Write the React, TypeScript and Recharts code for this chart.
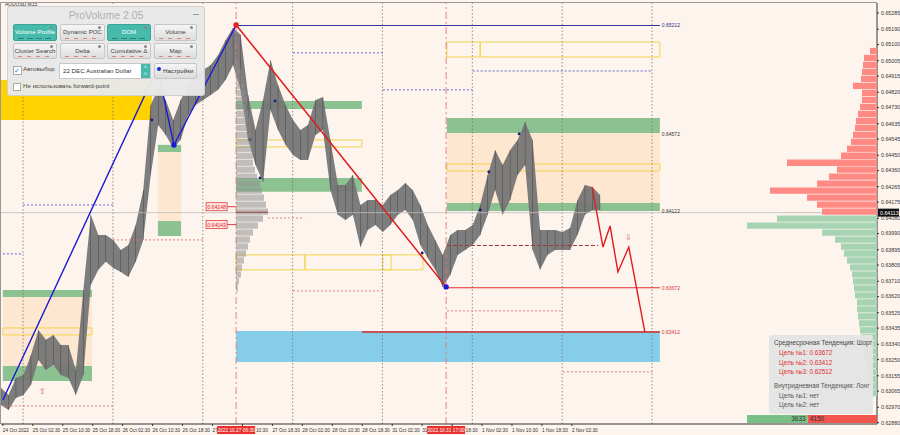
import React from "react";
import {
  ComposedChart,
  Area,
  Bar,
  BarChart,
  Cell,
  Line,
  Scatter,
  XAxis,
  YAxis,
  ReferenceArea,
  ReferenceLine,
  ReferenceDot,
  LabelList,
} from "recharts";

const W = 900;
const H = 435;
const PRICE_MIN = 0.62872;
const PRICE_MAX = 0.65344;
const LAST = 0.64113;
const FONT = "'Liberation Sans', Arial, sans-serif";

// candle highs / lows, one pair every 2 bars
const highs = [
  0.63083, 0.63043, 0.63142, 0.6316, 0.63277, 0.63424, 0.63366, 0.63395, 0.63336, 0.63336,
  0.63189, 0.63659, 0.641, 0.63982, 0.63982, 0.63953, 0.63894, 0.63923, 0.64041, 0.64246,
  0.64745, 0.64845, 0.64775, 0.64657, 0.64775, 0.64863, 0.64922, 0.64951, 0.6498, 0.65039,
  0.65127, 0.65198, 0.65157, 0.64804, 0.64599, 0.64775, 0.6501, 0.64863, 0.64745, 0.64657,
  0.64599, 0.64628, 0.64775, 0.64792, 0.6454, 0.64276, 0.64276, 0.64334, 0.64158, 0.64188,
  0.64188, 0.64158, 0.64217, 0.64246, 0.64287, 0.64246, 0.64158, 0.64041, 0.63953, 0.63865,
  0.63982, 0.64011, 0.64011, 0.64041, 0.64158, 0.64334, 0.64481, 0.64393, 0.64481, 0.6454,
  0.64646, 0.6454, 0.64011, 0.64011, 0.64011, 0.63999, 0.64023, 0.64188, 0.64276, 0.64264,
  0.64217,
];
const lows = [
  0.62984, 0.62954, 0.63025, 0.63043, 0.63101, 0.63248, 0.63189, 0.63219, 0.6316, 0.63142,
  0.63043, 0.6316, 0.63688, 0.63777, 0.63824, 0.63788, 0.63765, 0.63735, 0.63824, 0.63953,
  0.64334, 0.64628, 0.64569, 0.64493, 0.6454, 0.64687, 0.64745, 0.64775, 0.64804, 0.64834,
  0.64892, 0.6498, 0.64834, 0.6454, 0.64393, 0.64293, 0.64716, 0.64599, 0.64511, 0.64452,
  0.64422, 0.64422, 0.64569, 0.64599, 0.64246, 0.641, 0.6407, 0.641, 0.63912, 0.64011,
  0.64041, 0.63999, 0.64041, 0.641, 0.64129, 0.6407, 0.63923, 0.63847, 0.63777, 0.63677,
  0.63747, 0.63865, 0.63894, 0.63923, 0.63982, 0.641, 0.64246, 0.641, 0.64188, 0.64334,
  0.64393, 0.63894, 0.63777, 0.63865, 0.63894, 0.63894, 0.63894, 0.63982, 0.641, 0.64129,
  0.64129,
];

const timeLabels = [
  "24 Oct 2022", "25 Oct 02:30", "25 Oct 10:30", "25 Oct 18:30", "26 Oct 02:30",
  "26 Oct 10:30", "26 Oct 18:30", "27 Oct 02:30", "27 Oct 10:30", "27 Oct 18:30",
  "28 Oct 02:30", "28 Oct 10:30", "28 Oct 18:30", "31 Oct 02:30", "31 Oct 10:30",
  "31 Oct 18:30", "1 Nov 02:30", "1 Nov 10:30", "1 Nov 18:30", "2 Nov 02:30",
];
const timeTicks = timeLabels.map((_, i) => 0.5 + i * 8);
// parts of the time labels left visible next to the red time flags
const clippedLabels: Record<number, { text: string; dx: number }> = {
  7: { text: "27", dx: 0 },
  8: { text: "10:30", dx: 13.5 },
  14: { text: "31", dx: 0 },
  15: { text: "18:30", dx: 13.5 },
};

const priceTicks = [
  0.65285, 0.6519, 0.651, 0.65005, 0.64915, 0.6482, 0.6473, 0.64635, 0.64545, 0.6445,
  0.6436, 0.64265, 0.64175, 0.6408, 0.6399, 0.63895, 0.63805, 0.6371, 0.6362, 0.63525,
  0.63435, 0.6334, 0.6325, 0.63155, 0.63065, 0.6297, 0.6288,
];

const gridBars = [5.9, 29.9, 53.9, 77.9, 101.9, 125.9, 149.9, 173.9];

const blueWave = [
  { bar: 0.5, price: 0.63013 },
  { bar: 41.8, price: 0.64962 },
  { bar: 46.2, price: 0.6451 },
  { bar: 62.8, price: 0.65215 },
];
const redWave = [
  { bar: 62.8, price: 0.65215 },
  { bar: 118.9, price: 0.63677 },
];
const forecast = [
  { bar: 157.9, price: 0.64264 },
  { bar: 160.8, price: 0.63911 },
  { bar: 162.7, price: 0.64035 },
  { bar: 164.8, price: 0.63765 },
  { bar: 167.7, price: 0.63911 },
  { bar: 172, price: 0.63412 },
];

const greenZones = [
  { x1: 0.5, x2: 24.3, y1: 0.63618, y2: 0.63659 },
  { x1: 0.5, x2: 24.3, y1: 0.63125, y2: 0.63213 },
  { x1: 41.9, x2: 48.1, y1: 0.64469, y2: 0.64511 },
  { x1: 41.9, x2: 48.1, y1: 0.63976, y2: 0.64064 },
  { x1: 62.8, x2: 96.4, y1: 0.64722, y2: 0.64769 },
  { x1: 62.8, x2: 96.4, y1: 0.64235, y2: 0.64317 },
  { x1: 119.1, x2: 176, y1: 0.64581, y2: 0.64669 },
  { x1: 119.1, x2: 176, y1: 0.64123, y2: 0.6417 },
];
const orangeZones = [
  { x1: 0.5, x2: 24.3, y1: 0.63213, y2: 0.63618 },
  { x1: 41.9, x2: 48.1, y1: 0.64064, y2: 0.64469 },
  { x1: 119.1, x2: 176, y1: 0.6417, y2: 0.64581 },
];
const yellowBoxes = [
  { x1: 0.5, x2: 24.3, y1: 0.63395, y2: 0.63436 },
  { x1: 62.8, x2: 96.4, y1: 0.64499, y2: 0.6454 },
  { x1: 62.8, x2: 81.2, y1: 0.63777, y2: 0.63865 },
  { x1: 81.2, x2: 104.2, y1: 0.63777, y2: 0.63865 },
  { x1: 102, x2: 112.7, y1: 0.63777, y2: 0.63865 },
  { x1: 119.1, x2: 128, y1: 0.65027, y2: 0.65115 },
  { x1: 128, x2: 176, y1: 0.65027, y2: 0.65115 },
  { x1: 119.1, x2: 176, y1: 0.64358, y2: 0.64399 },
];

const solidLevels = [
  { x1: 62.8, x2: 176, price: 0.65212, color: "#3434a0", w: 1.2, dash: "" },
  { x1: 118.9, x2: 176, price: 0.63672, color: "#e03030", w: 1.2, dash: "" },
  { x1: 96.4, x2: 176, price: 0.63412, color: "#d42a2a", w: 1.5, dash: "" },
  { x1: 119.1, x2: 159.5, price: 0.6392, color: "#9b3a3a", w: 1.1, dash: "4 2" },
  { x1: 62.8, x2: 71.3, price: 0.64115, color: "#b03030", w: 1.5, dash: "" },
];
const dottedLevels = [
  { x1: 0.5, x2: 5.9, price: 0.63871, color: "#5555d0" },
  { x1: 5.9, x2: 29.9, price: 0.64158, color: "#5555d0" },
  { x1: 29.9, x2: 53.9, price: 0.63953, color: "#e07070" },
  { x1: 0.5, x2: 29.9, price: 0.62978, color: "#e07070" },
  { x1: 71.3, x2: 81, price: 0.64082, color: "#e07070" },
  { x1: 78, x2: 102, price: 0.65051, color: "#5555d0" },
  { x1: 78, x2: 102, price: 0.63653, color: "#e07070" },
  { x1: 102, x2: 126, price: 0.64834, color: "#5555d0" },
  { x1: 119.1, x2: 150.1, price: 0.63536, color: "#e07070" },
  { x1: 126, x2: 174, price: 0.64945, color: "#5555d0" },
  { x1: 150.1, x2: 174, price: 0.63178, color: "#e07070" },
];

const levelTags = [
  { price: 0.65212, text: "0.65212", color: "#2b2b8c" },
  { price: 0.64572, text: "0.64572", color: "#333" },
  { price: 0.64122, text: "0.64122", color: "#333" },
  { price: 0.63672, text: "0.63672", color: "#e03030" },
  { price: 0.63412, text: "0.63412", color: "#e03030" },
];

const smallDots = [
  { bar: 73.2, price: 0.64769 },
  { bar: 66.5, price: 0.6454 },
  { bar: 69.2, price: 0.64317 },
  { bar: 130.3, price: 0.64352 },
  { bar: 128, price: 0.64129 },
  { bar: 138.4, price: 0.64575 },
  { bar: 112.5, price: 0.63876 },
  { bar: 40.3, price: 0.64657 },
];
const pivotsBlue = [
  { bar: 46.2, price: 0.6451 },
  { bar: 118.9, price: 0.63677 },
];
const pivotsRed = [{ bar: 62.8, price: 0.65215 }];
const arrows = [
  { bar: 11.2, price: 0.6306, glyph: "⇧" },
  { bar: 167.5, price: 0.6397, glyph: "⇩" },
];
const sessionTags = [
  { bar: 62.8, price: 0.64148, text: "0.64148" },
  { bar: 62.8, price: 0.64043, text: "0.64043" },
];

// volume profile bins (shared price levels)
const profileLevels = [
  0.6506, 0.65019, 0.64978, 0.64937, 0.64896, 0.64855, 0.64814, 0.64773, 0.64732, 0.64691,
  0.6465, 0.64609, 0.64568, 0.64527, 0.64486, 0.64445, 0.64404, 0.64363, 0.64322, 0.64281,
  0.6424, 0.64199, 0.64158, 0.64117, 0.64076, 0.64035, 0.63994, 0.63953, 0.63912, 0.63871,
  0.6383, 0.63789, 0.63748, 0.63707, 0.63666, 0.63625, 0.63584, 0.63543, 0.63502, 0.63461,
  0.6342, 0.63379, 0.63338, 0.63297, 0.63256, 0.63215, 0.63174, 0.63133, 0.63092, 0.63051,
];
const dayVolume = [
  7, 13, 14, 15, 16, 24, 15, 15, 17, 19, 21, 22, 24, 26, 30, 36, 90, 40, 48, 60,
  107, 70, 60, 55, 100, 130, 55, 42, 36, 33, 30, 27, 25, 24, 23, 22, 20, 20, 19, 18,
  17, 16, 15, 14, 12, 11, 10, 9, 7, 5,
];
const sessionVolume = [
  0, 0, 3, 5, 6, 8, 9, 11, 10, 12, 13, 14, 14, 15, 16, 17, 17, 19, 21, 24,
  26, 28, 30, 32, 27, 22, 17, 14, 12, 10, 8, 6, 5, 3, 2, 0, 0, 0, 0, 0,
  0, 0, 0, 0, 0, 0, 0, 0, 0, 0,
];
const buyVolume = 3633;
const sellVolume = 4150;

const fmt = (v: number) => v.toFixed(5);

function TimeTick({ x, y, payload }: any) {
  const i = timeTicks.indexOf(payload.value);
  const clip = clippedLabels[i];
  return (
    <text x={x + (clip ? clip.dx : 0)} y={y + 4} fontSize={4.8} fill="#333" textAnchor="start" fontFamily={FONT}>
      {clip ? clip.text : timeLabels[i]}
    </text>
  );
}

function TimeFlag({ viewBox, text }: any) {
  const x = viewBox.x;
  const y = viewBox.y + viewBox.height;
  return (
    <g>
      <rect x={x - 19} y={y + 2} width={38} height={8} fill="#e8302c" />
      <text x={x} y={y + 8} fontSize={4.8} fill="#fff" textAnchor="middle" fontFamily={FONT}>
        {text}
      </text>
    </g>
  );
}

function LastFlag({ viewBox }: any) {
  const x = viewBox.x + viewBox.width + 1;
  return (
    <g>
      <rect x={x} y={viewBox.y - 4} width={21} height={8} fill="#111" />
      <text x={x + 2} y={viewBox.y + 2} fontSize={5.3} fill="#fff" fontFamily={FONT}>
        {fmt(LAST)}
      </text>
    </g>
  );
}

function LevelText({ viewBox, text, color }: any) {
  return (
    <text x={viewBox.x + 2} y={viewBox.y + 2} fontSize={5} fill={color} fontFamily={FONT}>
      {text}
    </text>
  );
}

function PriceTag(p: any) {
  return (
    <g>
      <rect x={p.cx - 30} y={p.cy - 4} width={21} height={8} fill="#fde2de" stroke="#e04040" strokeWidth={0.8} />
      <text x={p.cx - 19.5} y={p.cy + 2} fontSize={5.2} fill="#e03030" textAnchor="middle" fontFamily={FONT}>
        {p.payload.text}
      </text>
      <line x1={p.cx - 9} x2={p.cx} y1={p.cy} y2={p.cy} stroke="#e04040" />
    </g>
  );
}

function Btn({ left, top, w, h, label, on }: any) {
  return (
    <div
      style={{
        position: "absolute",
        left,
        top,
        width: w,
        height: h,
        borderRadius: 2,
        background: on ? "#46bbad" : "linear-gradient(#f6f6f6, #dcdcdc)",
        border: on ? "1px solid #3aa597" : "1px solid #c6c6c6",
        boxSizing: "border-box",
        color: on ? "#fff" : "#444",
        fontSize: 6.2,
        lineHeight: `${h - 3}px`,
        textAlign: "center",
        whiteSpace: "nowrap",
        overflow: "hidden",
      }}
    >
      {label}
      <div style={{ position: "absolute", right: 3, top: 1, width: 3, height: 3, borderRadius: 2, background: "#888" }} />
      <div
        style={{
          position: "absolute",
          left: 4,
          right: 4,
          bottom: 1.5,
          height: 1,
          background: on
            ? "repeating-linear-gradient(90deg,#2b7f75 0 6px,transparent 6px 9px)"
            : "repeating-linear-gradient(90deg,#e08080 0 4px,transparent 4px 9px)",
        }}
      />
    </div>
  );
}

function Panel() {
  const cols = [
    { left: 5, w: 44 },
    { left: 52, w: 45 },
    { left: 99, w: 44 },
    { left: 146, w: 43 },
  ];
  const rows = [
    ["Volume Profile", "Dynamic POC", "DOM", "Volume"],
    ["Cluster Search", "Delta", "Cumulative Δ", "Map"],
  ];
  const on = ["Volume Profile", "DOM"];
  return (
    <div
      style={{
        position: "absolute",
        left: 7,
        top: 6,
        width: 198,
        height: 90,
        background: "rgba(232,232,232,0.97)",
        border: "1px solid #d0d0d0",
        borderRadius: 3,
        boxSizing: "border-box",
        fontFamily: FONT,
      }}
    >
      <div style={{ position: "absolute", left: 0, right: 0, top: 2, textAlign: "center", fontSize: 10.5, color: "#b0b0b0" }}>
        ProVolume 2.05
      </div>
      <div style={{ position: "absolute", right: 5, top: 7, width: 6, height: 1, background: "#999" }} />
      {rows.map((r, ri) =>
        r.map((label, ci) => (
          <Btn
            key={label}
            left={cols[ci].left}
            top={ri === 0 ? 17 : 36}
            w={cols[ci].w}
            h={ri === 0 ? 17 : 16}
            label={label}
            on={on.includes(label)}
          />
        ))
      )}
      <div style={{ position: "absolute", left: 5, top: 59, width: 7, height: 7, background: "#fff", border: "1px solid #aaa", fontSize: 7, lineHeight: "7px", color: "#3a80c0" }}>
        ✓
      </div>
      <div style={{ position: "absolute", left: 15, top: 58, fontSize: 6.2, color: "#444" }}>Автовыбор</div>
      <div
        style={{
          position: "absolute",
          left: 51,
          top: 56,
          width: 92,
          height: 16,
          background: "#fff",
          border: "1px solid #c8c8c8",
          boxSizing: "border-box",
          fontSize: 6.2,
          lineHeight: "14px",
          paddingLeft: 3,
          color: "#333",
        }}
      >
        22 DEC Australian Dollar
        <div style={{ position: "absolute", right: 0, top: 0, width: 9, height: 14, background: "#46bbad", color: "#fff", fontSize: 5, lineHeight: "7px", textAlign: "center" }}>
          ˄<br />˅
        </div>
      </div>
      <div
        style={{
          position: "absolute",
          left: 146,
          top: 56,
          width: 43,
          height: 16,
          background: "linear-gradient(#f6f6f6, #dcdcdc)",
          border: "1px solid #c6c6c6",
          boxSizing: "border-box",
          borderRadius: 2,
          fontSize: 6.2,
          lineHeight: "14px",
          paddingLeft: 8,
          color: "#333",
        }}
      >
        <div style={{ position: "absolute", left: 2, top: 3, width: 4, height: 4, borderRadius: 3, background: "#1530d0" }} />
        Настройки
      </div>
      <div style={{ position: "absolute", left: 5, top: 76, width: 6, height: 6, background: "#fff", border: "1px solid #aaa" }} />
      <div style={{ position: "absolute", left: 15, top: 75, fontSize: 6.2, color: "#444" }}>Не использовать forward-point</div>
    </div>
  );
}

function InfoBox() {
  const line = (text: string, top: number, color: string, left: number) => (
    <div key={text + top} style={{ position: "absolute", left, top, fontSize: 6.3, color, whiteSpace: "nowrap" }}>
      {text}
    </div>
  );
  return (
    <div
      style={{
        position: "absolute",
        left: 769,
        top: 335,
        width: 104,
        height: 79,
        background: "rgba(228,228,228,0.95)",
        borderRadius: 3,
        fontFamily: FONT,
      }}
    >
      {line("Среднесрочная Тенденция: Шорт", 4, "#444", 5)}
      {line("Цель №1: 0.63672", 14, "#e03030", 10)}
      {line("Цель №2: 0.63412", 24, "#e03030", 10)}
      {line("Цель №3: 0.62512", 33, "#e03030", 10)}
      {line("Внутридневная Тенденция: Лонг", 47, "#555", 5)}
      {line("Цель №1: нет", 57, "#555", 10)}
      {line("Цель №2: нет", 66, "#555", 10)}
    </div>
  );
}

export default function App() {
  const candles = highs.map((hi, i) => ({ bar: i * 2, hi, lo: lows[i] }));
  const dayProfile = profileLevels.map((level, i) => ({ level, vol: dayVolume[i] }));
  const sessionProfile = profileLevels
    .map((level, i) => ({ level, vol: sessionVolume[i] }))
    .filter((d) => d.vol > 0);
  const flow = [{ name: "flow", buy: buyVolume, sell: sellVolume }];

  return (
    <div style={{ position: "absolute", left: 0, top: 0, width: W, height: H, background: "#fdf4ee", fontFamily: FONT, overflow: "hidden" }}>
      <ComposedChart width={W} height={H} data={candles} margin={{ top: 3, right: 0, bottom: 0, left: 1 }}>
        <XAxis
          type="number"
          dataKey="bar"
          domain={[0, 234]}
          ticks={timeTicks}
          interval={0}
          tick={<TimeTick />}
          height={11}
          tickSize={2}
          stroke="#333"
          allowDataOverflow
        />
        <YAxis
          orientation="right"
          type="number"
          domain={[PRICE_MIN, PRICE_MAX]}
          ticks={priceTicks}
          interval={0}
          width={23}
          tickSize={2}
          tick={{ fontSize: 5.3, fill: "#333", fontFamily: FONT }}
          tickFormatter={fmt}
          stroke="#333"
          allowDataOverflow
        />

        {gridBars.map((b) => (
          <ReferenceLine key={"g" + b} x={b} stroke="#777" strokeDasharray="1.5 2" strokeWidth={0.8} />
        ))}

        <ReferenceArea x1={0} x2={40.3} y1={0.64657} y2={0.64892} fill="#ffd200" fillOpacity={1} stroke="none" />
        {orangeZones.map((z, i) => (
          <ReferenceArea key={"o" + i} {...z} fill="#fde6cc" fillOpacity={0.9} stroke="none" />
        ))}
        {greenZones.map((z, i) => (
          <ReferenceArea key={"gz" + i} {...z} fill="#86bf8c" fillOpacity={0.95} stroke="none" />
        ))}
        {yellowBoxes.map((z, i) => (
          <ReferenceArea key={"y" + i} {...z} fill="none" stroke="#f2d44a" strokeWidth={1} />
        ))}
        <ReferenceArea x1={62.8} x2={176} y1={0.63236} y2={0.63418} fill="#86cdea" fillOpacity={1} stroke="none" />

        <ReferenceLine y={LAST} stroke="#bdbdbd" strokeWidth={0.8} label={<LastFlag />} />

        {dottedLevels.map((l, i) => (
          <ReferenceLine
            key={"d" + i}
            segment={[{ x: l.x1, y: l.price }, { x: l.x2, y: l.price }]}
            stroke={l.color}
            strokeDasharray="2 2"
            strokeWidth={0.9}
          />
        ))}

        <ReferenceLine x={62.8} stroke="#e27676" strokeDasharray="7 3 2 3" strokeWidth={0.9} label={<TimeFlag text="2022.10.27 06:30" />} />
        <ReferenceLine x={118.9} stroke="#e27676" strokeDasharray="7 3 2 3" strokeWidth={0.9} label={<TimeFlag text="2022.10.31 17:00" />} />

        <Area
          dataKey={(d: any) => [d.lo, d.hi]}
          type="linear"
          stroke="none"
          fill="#767676"
          fillOpacity={0.95}
          dot={false}
          activeDot={false}
          isAnimationActive={false}
        />
        <Bar dataKey={(d: any) => [d.lo, d.hi]} barSize={1.6} fill="#2f2f2f" isAnimationActive={false} />

        {solidLevels.map((l, i) => (
          <ReferenceLine
            key={"s" + i}
            segment={[{ x: l.x1, y: l.price }, { x: l.x2, y: l.price }]}
            stroke={l.color}
            strokeWidth={l.w}
            strokeDasharray={l.dash || undefined}
          />
        ))}

        <Line data={blueWave} dataKey="price" stroke="#1a1ad2" strokeWidth={1.4} dot={false} activeDot={false} isAnimationActive={false} />
        <Line data={redWave} dataKey="price" stroke="#e01c1c" strokeWidth={1.5} dot={false} activeDot={false} isAnimationActive={false} />
        <Line data={forecast} dataKey="price" stroke="#e01c1c" strokeWidth={1.4} dot={false} activeDot={false} isAnimationActive={false} />

        <Scatter data={smallDots} dataKey="price" isAnimationActive={false} shape={(p: any) => <circle cx={p.cx} cy={p.cy} r={1.4} fill="#1a1a7a" />} />
        <Scatter data={pivotsBlue} dataKey="price" isAnimationActive={false} shape={(p: any) => <circle cx={p.cx} cy={p.cy} r={2.7} fill="#1a1ad2" />} />
        <Scatter data={pivotsRed} dataKey="price" isAnimationActive={false} shape={(p: any) => <circle cx={p.cx} cy={p.cy} r={2.7} fill="#e8201c" />} />
        <Scatter
          data={arrows}
          dataKey="price"
          isAnimationActive={false}
          shape={(p: any) => (
            <text x={p.cx} y={p.cy} fontSize={8} fill="#e05a5a" textAnchor="middle" dominantBaseline="central">
              {p.payload.glyph}
            </text>
          )}
        />
        <Scatter data={sessionTags} dataKey="price" isAnimationActive={false} shape={PriceTag} />

        {levelTags.map((t) => (
          <ReferenceDot key={t.text} x={176} y={t.price} r={0} stroke="none" fill="none" label={<LevelText text={t.text} color={t.color} />} />
        ))}
      </ComposedChart>

      {/* session profile from the 27 Oct high */}
      <div style={{ position: "absolute", left: 236, top: 0, pointerEvents: "none" }}>
        <BarChart width={64} height={H} data={sessionProfile} layout="vertical" margin={{ top: 3, right: 0, bottom: 11, left: 0 }}>
          <XAxis type="number" domain={[0, 64]} hide />
          <YAxis type="number" dataKey="level" domain={[PRICE_MIN, PRICE_MAX]} reversed hide allowDataOverflow />
          <Bar dataKey="vol" barSize={7} fill="#8f8f8f" fillOpacity={0.55} isAnimationActive={false} />
        </BarChart>
      </div>

      {/* day profile on the right edge */}
      <div style={{ position: "absolute", left: 747, top: 0, pointerEvents: "none" }}>
        <BarChart width={130} height={H} data={dayProfile} layout="vertical" margin={{ top: 3, right: 0, bottom: 11, left: 0 }}>
          <XAxis type="number" domain={[0, 130]} reversed hide />
          <YAxis type="number" dataKey="level" domain={[PRICE_MIN, PRICE_MAX]} reversed hide allowDataOverflow />
          <Bar dataKey="vol" barSize={7} isAnimationActive={false}>
            {dayProfile.map((d) => (
              <Cell key={d.level} fill={d.level > LAST ? "#ff8a84" : "#a6d4b2"} />
            ))}
          </Bar>
        </BarChart>
      </div>

      <InfoBox />

      <div style={{ position: "absolute", left: 747, top: 415 }}>
        <BarChart width={130} height={9} data={flow} layout="vertical" margin={{ top: 0, right: 0, bottom: 0, left: 0 }}>
          <XAxis type="number" domain={[0, buyVolume + sellVolume]} hide />
          <YAxis type="category" dataKey="name" hide />
          <Bar dataKey="buy" stackId="f" fill="#79bf88" barSize={9} isAnimationActive={false}>
            <LabelList dataKey="buy" position="insideRight" fontSize={6.5} fill="#333" offset={2} />
          </Bar>
          <Bar dataKey="sell" stackId="f" fill="#f05550" barSize={9} isAnimationActive={false}>
            <LabelList dataKey="sell" position="insideLeft" fontSize={6.5} fill="#333" offset={2} />
          </Bar>
        </BarChart>
      </div>

      <div style={{ position: "absolute", left: 5, top: 1, fontSize: 5, color: "#333" }}>AUDUSD,M15</div>
      <Panel />
      <div style={{ position: "absolute", left: 0, top: 2, width: 877, height: 422, borderTop: "1px solid #999", borderLeft: "1px solid #999", boxSizing: "border-box", pointerEvents: "none" }} />
    </div>
  );
}
